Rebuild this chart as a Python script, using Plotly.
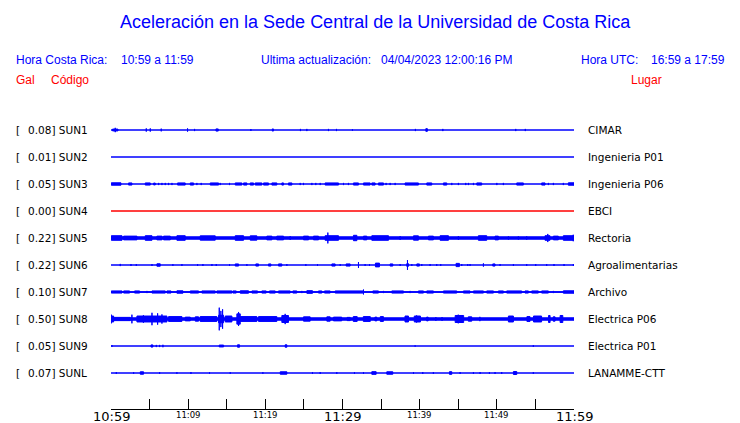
import plotly.graph_objects as go

# ---------------- data ----------------
CODES = ["SUN1", "SUN2", "SUN3", "SUN4", "SUN5", "SUN6", "SUN7", "SUN8", "SUN9", "SUNL"]
PEAKS = ["0.08", "0.01", "0.05", "0.00", "0.22", "0.22", "0.10", "0.50", "0.05", "0.07"]
PLACES = ["CIMAR", "Ingenieria P01", "Ingenieria P06", "EBCI", "Rectoria",
          "Agroalimentarias", "Archivo", "Electrica P06", "Electrica P01", "LANAMME-CTT"]

# time axis: minutes after 10:59 (local)
T_START, T_END = 0, 60
TICK_MIN = [0, 5, 10, 15, 20, 25, 30, 35, 40, 45, 50, 55, 60]
LABEL_MIN = [0, 10, 20, 30, 40, 50, 60]
LABEL_TEXT = ["10:59", "11:09", "11:19", "11:29", "11:39", "11:49", "11:59"]
LABEL_BIG = [True, False, False, True, False, False, True]

# background noise half-width of each trace (trace-spacing units)
NOISE = [0.0, 0.0, 0.0, 0.0, 0.045, 0.0, 0.015, 0.045, 0.0, 0.0]

# bursts: (start minute, end minute, half amplitude in trace-spacing units)
SUN1 = [(0.2, 0.9, 0.035), (0.55, 0.55, 0.08), (4.57, 4.57, 0.06), (5.09, 5.09, 0.06),
        (6.51, 6.51, 0.05), (9.92, 9.92, 0.06), (10.83, 10.83, 0.04), (13.6, 13.9, 0.04),
        (18.13, 18.13, 0.035), (20.9, 21.05, 0.04), (24.55, 24.55, 0.04), (25.38, 25.38, 0.04),
        (28.18, 28.18, 0.04), (29.22, 29.22, 0.04), (31.29, 31.29, 0.025), (39.45, 39.45, 0.04),
        (40.8, 41.0, 0.05), (43.0, 43.0, 0.04), (52.45, 52.45, 0.04), (53.69, 53.69, 0.04)]
SUN2 = []
SUN3 = [(0.04, 1.29, 0.045), (2.28, 2.71, 0.04), (4.44, 5.09, 0.04), (5.52, 5.74, 0.035),
        (6.17, 6.17, 0.04), (6.6, 6.6, 0.04), (7.03, 7.03, 0.04), (7.46, 7.46, 0.04),
        (7.9, 7.9, 0.04), (8.63, 9.62, 0.04), (10.27, 10.7, 0.04), (11.13, 11.13, 0.04),
        (11.69, 11.69, 0.04), (12.86, 13.94, 0.04), (14.15, 14.15, 0.04), (15.36, 15.36, 0.04),
        (16.1, 16.96, 0.04), (17.18, 17.61, 0.04), (18.04, 18.47, 0.04), (18.69, 19.55, 0.04),
        (19.77, 20.41, 0.04), (20.85, 21.49, 0.04), (22.14, 22.36, 0.04), (23.0, 23.44, 0.04),
        (24.52, 24.52, 0.04), (24.95, 24.95, 0.04), (26.03, 26.03, 0.04), (26.54, 26.54, 0.04),
        (27.11, 27.11, 0.04), (27.75, 29.48, 0.04), (30.13, 30.13, 0.04), (30.77, 30.77, 0.04),
        (31.42, 32.07, 0.04), (32.72, 33.58, 0.04), (33.8, 34.23, 0.04), (34.66, 35.31, 0.04),
        (35.65, 35.65, 0.04), (36.17, 36.17, 0.04), (36.82, 36.82, 0.04), (38.11, 39.84, 0.04),
        (40.92, 41.57, 0.04), (43.08, 43.51, 0.04), (44.16, 44.16, 0.04), (45.02, 45.02, 0.04),
        (45.97, 45.97, 0.04), (46.32, 46.32, 0.04), (46.97, 46.97, 0.04), (47.4, 48.04, 0.04),
        (50.0, 50.0, 0.04), (50.85, 50.85, 0.04), (52.58, 53.44, 0.04), (55.81, 56.25, 0.04),
        (56.68, 56.68, 0.04), (57.33, 57.33, 0.04), (58.62, 58.62, 0.04), (59.27, 60.0, 0.045)]
SUN4 = []
SUN5 = [(0.04, 1.42, 0.085), (1.64, 3.36, 0.07), (4.44, 5.31, 0.085), (5.95, 6.6, 0.07),
        (6.82, 7.68, 0.07), (8.54, 9.62, 0.085), (11.56, 13.51, 0.08), (16.1, 17.18, 0.085),
        (18.04, 18.9, 0.08), (20.2, 20.85, 0.07), (21.49, 22.36, 0.07), (23.22, 23.22, 0.07),
        (24.95, 25.6, 0.07), (26.24, 26.89, 0.07), (27.75, 29.48, 0.085), (28.1, 28.1, 0.2),
        (31.42, 31.86, 0.1), (32.72, 33.15, 0.07), (33.8, 35.96, 0.085), (37.47, 37.47, 0.07),
        (39.2, 39.84, 0.08), (41.14, 41.78, 0.07), (42.65, 43.73, 0.085), (45.02, 45.02, 0.07),
        (47.61, 48.69, 0.085), (49.77, 50.2, 0.07), (51.5, 51.5, 0.06), (52.79, 52.79, 0.06),
        (53.87, 53.87, 0.06), (56.25, 56.89, 0.085), (56.6, 56.6, 0.15), (57.33, 57.97, 0.07),
        (58.62, 60.0, 0.085), (59.9, 59.9, 0.12)]
SUN6 = [(1.2, 1.2, 0.04), (2.59, 2.59, 0.035), (3.28, 3.28, 0.035), (5.31, 5.31, 0.035),
        (5.95, 6.38, 0.045), (8.02, 8.02, 0.03), (9.19, 9.19, 0.035), (11.22, 11.22, 0.035),
        (11.91, 11.91, 0.035), (13.08, 13.08, 0.035), (13.64, 13.64, 0.035), (15.36, 15.36, 0.035),
        (16.1, 16.53, 0.04), (17.61, 17.61, 0.035), (18.77, 19.12, 0.04), (20.41, 20.72, 0.04),
        (21.71, 22.14, 0.04), (22.79, 22.79, 0.035), (25.25, 25.25, 0.035), (26.76, 26.76, 0.035),
        (28.62, 29.05, 0.04), (29.7, 29.7, 0.035), (30.47, 30.99, 0.04), (32.07, 32.07, 0.11),
        (32.93, 32.93, 0.035), (33.5, 33.5, 0.035), (34.27, 34.79, 0.07), (36.17, 36.52, 0.04),
        (37.47, 37.47, 0.035), (38.33, 38.55, 0.05), (38.42, 38.42, 0.18), (38.98, 38.98, 0.035),
        (39.63, 39.97, 0.04), (40.27, 40.27, 0.035), (41.35, 41.35, 0.035), (42.21, 42.21, 0.035),
        (42.73, 42.73, 0.035), (44.72, 45.15, 0.06), (45.45, 45.45, 0.035), (46.23, 46.23, 0.035),
        (46.53, 46.53, 0.035), (48.26, 48.26, 0.06), (49.47, 49.77, 0.04), (50.42, 50.42, 0.035),
        (52.15, 52.15, 0.035), (53.87, 53.87, 0.035), (55.04, 55.04, 0.035), (56.46, 56.46, 0.035),
        (57.41, 57.41, 0.035), (58.71, 58.71, 0.035), (59.92, 59.92, 0.035)]
SUN7 = [(0.04, 1.42, 0.04), (1.64, 2.41, 0.04), (3.06, 3.71, 0.04), (4.66, 4.66, 0.04),
        (5.31, 7.03, 0.04), (7.25, 7.77, 0.04), (8.54, 9.32, 0.045), (10.27, 11.35, 0.04),
        (11.78, 13.51, 0.04), (13.72, 15.67, 0.04), (15.8, 16.23, 0.04), (16.75, 17.82, 0.045),
        (18.26, 18.99, 0.04), (19.55, 20.11, 0.04), (20.54, 21.28, 0.04), (21.71, 23.22, 0.04),
        (23.57, 24.08, 0.04), (24.73, 24.73, 0.04), (25.38, 26.11, 0.05), (26.89, 27.32, 0.04),
        (27.67, 28.4, 0.04), (29.05, 32.72, 0.04), (32.72, 32.72, 0.09), (33.93, 34.66, 0.04),
        (35.31, 35.31, 0.04), (36.39, 37.9, 0.04), (38.76, 38.76, 0.04), (39.84, 40.49, 0.04),
        (40.92, 41.78, 0.04), (43.08, 44.81, 0.04), (45.67, 46.53, 0.04), (46.97, 48.26, 0.04),
        (48.69, 49.56, 0.04), (50.2, 50.85, 0.04), (51.28, 53.22, 0.04), (53.65, 54.09, 0.04),
        (54.52, 55.38, 0.04), (55.81, 56.68, 0.04), (57.33, 57.33, 0.04), (58.62, 60.0, 0.045)]
SUN8 = [(0.0, 0.34, 0.11), (0.04, 0.04, 0.16), (0.34, 2.5, 0.06), (2.71, 2.71, 0.16),
        (3.36, 7.25, 0.11), (4.2, 4.2, 0.14), (5.31, 5.31, 0.23), (6.04, 6.04, 0.21),
        (6.6, 6.6, 0.17), (7.46, 9.19, 0.09), (9.62, 10.27, 0.07), (10.92, 11.35, 0.08),
        (11.56, 13.72, 0.09), (13.94, 14.59, 0.14), (14.03, 14.03, 0.42), (14.24, 14.24, 0.3),
        (14.46, 14.46, 0.36), (14.8, 15.67, 0.11), (16.31, 16.75, 0.19), (16.53, 16.53, 0.26),
        (16.75, 18.9, 0.09), (19.12, 21.49, 0.09), (22.14, 23.0, 0.13), (22.57, 22.57, 0.19),
        (24.95, 25.81, 0.08), (27.97, 28.4, 0.08), (28.83, 29.9, 0.07), (30.6, 31.0, 0.06),
        (31.4, 31.9, 0.09), (32.7, 33.6, 0.09), (34.2, 34.45, 0.07), (34.9, 35.3, 0.09),
        (38.1, 38.55, 0.11), (39.3, 40.1, 0.11), (39.6, 39.6, 0.13), (40.9, 41.1, 0.07),
        (42.1, 42.1, 0.07), (42.9, 42.9, 0.07), (44.6, 45.7, 0.13), (45.0, 45.0, 0.16),
        (46.3, 46.75, 0.08), (47.8, 47.8, 0.08), (51.5, 52.15, 0.11), (53.9, 54.3, 0.09),
        (54.75, 55.8, 0.11), (56.7, 56.9, 0.13), (57.3, 57.55, 0.08), (58.2, 58.55, 0.13)]
SUN9 = [(0.12, 0.12, 0.035), (5.18, 5.43, 0.04), (5.87, 5.87, 0.04), (6.3, 6.3, 0.04),
        (6.73, 6.73, 0.045), (14.02, 14.59, 0.035), (16.4, 16.66, 0.045), (22.57, 22.79, 0.045),
        (39.41, 39.41, 0.025), (54.73, 54.73, 0.03)]
SUNL = [(0.69, 0.69, 0.035), (2.93, 2.93, 0.03), (3.79, 4.22, 0.045), (6.3, 6.3, 0.035),
        (8.54, 8.54, 0.03), (10.36, 10.36, 0.035), (12.77, 12.77, 0.03), (15.45, 15.45, 0.03),
        (19.68, 19.68, 0.03), (21.93, 22.79, 0.045), (26.11, 26.11, 0.035), (27.11, 27.11, 0.035),
        (29.26, 29.26, 0.035), (31.55, 31.55, 0.03), (32.72, 32.72, 0.035), (33.8, 34.36, 0.05),
        (35.74, 36.52, 0.045), (39.2, 39.2, 0.035), (40.4, 40.4, 0.035), (41.78, 41.78, 0.035),
        (43.86, 44.16, 0.05), (45.24, 45.24, 0.035), (46.97, 46.97, 0.035), (47.83, 47.83, 0.035),
        (49.04, 49.04, 0.035), (49.77, 49.77, 0.035), (50.63, 50.63, 0.035), (52.15, 52.58, 0.055),
        (54.73, 54.73, 0.035)]
BURSTS = [SUN1, SUN2, SUN3, SUN4, SUN5, SUN6, SUN7, SUN8, SUN9, SUNL]

# ---------------- styling / layout ----------------
BLUE, RED = "#0000ff", "#ff0000"
TRACE_COLORS = [BLUE, BLUE, BLUE, RED, BLUE, BLUE, BLUE, BLUE, BLUE, BLUE]
W, H = 740, 423
L, R, T, B = 111, 166, 103, 14
PW, PH = W - L - R, H - T - B
SPACING = 27.0  # px between traces
SANS = "Liberation Sans, Arial, sans-serif"
DEJAVU = "DejaVu Sans, sans-serif"


def px(x):
    return (x - L) / PW


def py(y):
    return (H - B - y) / PH


fig = go.Figure()

for i, (bursts, noise, col) in enumerate(zip(BURSTS, NOISE, TRACE_COLORS)):
    base = -i
    xs, ys = [], []
    for t0, t1, a in [(T_START, T_END, noise)] + bursts:
        xs += [t0, t1, t1, t0, t0, None]
        ys += [base - a, base - a, base + a, base + a, base - a, None]
    fig.add_trace(go.Scatter(
        x=xs, y=ys, mode="lines", fill="toself", fillcolor=col,
        line=dict(color=col, width=1, simplify=False),
        hoverinfo="skip", showlegend=False))

ann = []


def text(t, x, y, size, color, family, xanchor="left"):
    ann.append(dict(text=t, x=px(x), y=py(y), xref="paper", yref="paper",
                    xanchor=xanchor, yanchor="middle", showarrow=False,
                    font=dict(size=size, color=color, family=family)))


# header
text("Aceleración en la Sede Central de la Universidad de Costa Rica", 375, 22, 18, BLUE, SANS, "center")
text("Hora Costa Rica:", 14, 60, 12, BLUE, SANS)
text("10:59 a 11:59", 119, 60, 12, BLUE, SANS)
text("Ultima actualización:", 259, 60, 12, BLUE, SANS)
text("04/04/2023 12:00:16 PM", 379, 60, 12, BLUE, SANS)
text("Hora UTC:", 579, 60, 12, BLUE, SANS)
text("16:59 a 17:59", 649, 60, 12, BLUE, SANS)
text("Gal", 14, 80, 12, RED, SANS)
text("Código", 49, 80, 12, RED, SANS)
text("Lugar", 629, 80, 12, RED, SANS)

# trace labels
for i, (code, peak, place) in enumerate(zip(CODES, PEAKS, PLACES)):
    for t, x in (("[", 14), (f"{peak}] {code}", 26)):
        ann.append(dict(text=t, x=px(x), y=-i, xref="paper", yref="y",
                        xanchor="left", yanchor="middle", showarrow=False,
                        font=dict(size=10.5, color="black", family=DEJAVU)))
    ann.append(dict(text=place, x=px(586), y=-i, xref="paper", yref="y",
                    xanchor="left", yanchor="middle", showarrow=False,
                    font=dict(size=10.5, color="black", family=DEJAVU)))

# time labels
for m, lab, big in zip(LABEL_MIN, LABEL_TEXT, LABEL_BIG):
    ann.append(dict(text=lab, x=m, y=py(416.5 if big else 415), xref="x", yref="paper",
                    xanchor="center", yanchor="middle", showarrow=False, borderpad=0,
                    font=dict(size=13 if big else 8.5, color="black", family=DEJAVU)))

y_top = (130 - T) / SPACING            # space above first trace, in trace units
y_bot = (H - B - 130) / SPACING         # space from first trace to axis
fig.update_layout(
    width=W, height=H,
    margin=dict(l=L, r=R, t=T, b=B, pad=0),
    paper_bgcolor="white", plot_bgcolor="white",
    showlegend=False,
    annotations=ann,
    xaxis=dict(range=[T_START, T_END], showgrid=False, zeroline=False,
               showline=True, linecolor="black", linewidth=1,
               ticks="inside", ticklen=10, tickcolor="black", tickwidth=1,
               tickvals=TICK_MIN, showticklabels=False, fixedrange=True),
    yaxis=dict(range=[-y_bot, y_top], visible=False, fixedrange=True),
)

fig.write_html("out.html", config={"responsive": False, "displayModeBar": False},
               post_script="document.body.style.margin='0';document.body.style.overflow='hidden';")
